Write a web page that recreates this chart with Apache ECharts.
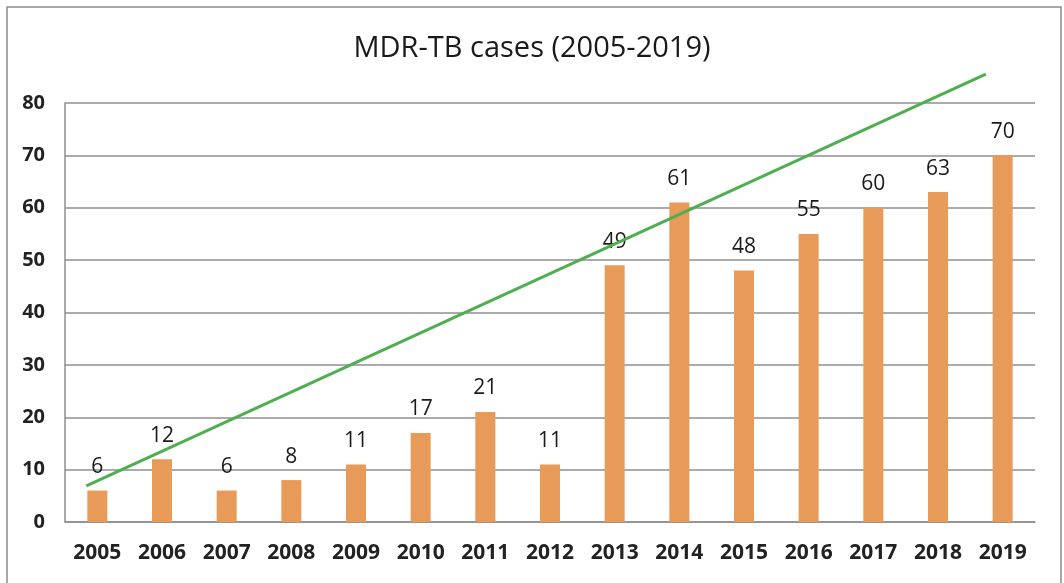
<!DOCTYPE html>
<html>
<head>
<meta charset="utf-8">
<script src="https://cdn.jsdelivr.net/npm/echarts@6/dist/echarts.min.js"></script>
<style>
  html, body { margin: 0; padding: 0; background: #fff; }
  #main { width: 1064px; height: 583px; }
</style>
</head>
<body>
<div id="main"></div>
<script>
// data
const years = ['2005', '2006', '2007', '2008', '2009', '2010', '2011', '2012',
               '2013', '2014', '2015', '2016', '2017', '2018', '2019']
const cases = [6, 12, 6, 8, 11, 17, 21, 11, 49, 61, 48, 55, 60, 63, 70]
// trend line end points (category index, value)
const trend = [[-0.17, 6.9], [13.74, 85.5]]

const chart = echarts.init(document.getElementById('main'))

chart.setOption({
    animation: false,
    title: {
        text: 'MDR-TB cases (2005-2019)',
        left: 'center',
        top: 29,
        textStyle: { fontFamily: 'Open Sans', fontSize: 29, fontWeight: 'normal', color: '#1a1a1a' }
    },
    graphic: [{
        type: 'rect',
        shape: { x: 7, y: 7, width: 1054, height: 620 },
        style: { fill: 'none', stroke: '#8c8c8c', lineWidth: 1.5 },
        silent: true
    }],
    grid: { left: 65, right: 29, top: 103, bottom: 61 },
    xAxis: [{
        type: 'category',
        data: years,
        axisLine: { lineStyle: { color: '#8f8f8f', width: 1.5 } },
        axisTick: { show: false },
        axisLabel: { fontFamily: 'Open Sans', fontWeight: 'bold', fontSize: 21, color: '#222', margin: 21 }
    }, {
        type: 'value',
        min: -0.5,
        max: 14.5,
        show: false
    }],
    yAxis: {
        type: 'value',
        min: 0,
        max: 80,
        interval: 10,
        axisLine: { show: true, onZero: false, lineStyle: { color: '#8f8f8f', width: 1.5 } },
        axisTick: { show: false },
        splitLine: { lineStyle: { color: '#8f8f8f', width: 1.5 } },
        axisLabel: { fontFamily: 'Open Sans', fontWeight: 'bold', fontSize: 20, color: '#222', margin: 20 }
    },
    series: [{
        type: 'bar',
        data: cases,
        barWidth: 20,
        itemStyle: { color: '#e89a58' },
        label: {
            show: true,
            position: 'top',
            distance: 13,
            fontFamily: 'Open Sans',
            fontSize: 21,
            color: '#1a1a1a'
        }
    }, {
        type: 'line',
        xAxisIndex: 1,
        data: trend,
        symbol: 'none',
        clip: false,
        lineStyle: { color: '#4fae4f', width: 3 },
        z: 5
    }]
})
</script>
</body>
</html>
